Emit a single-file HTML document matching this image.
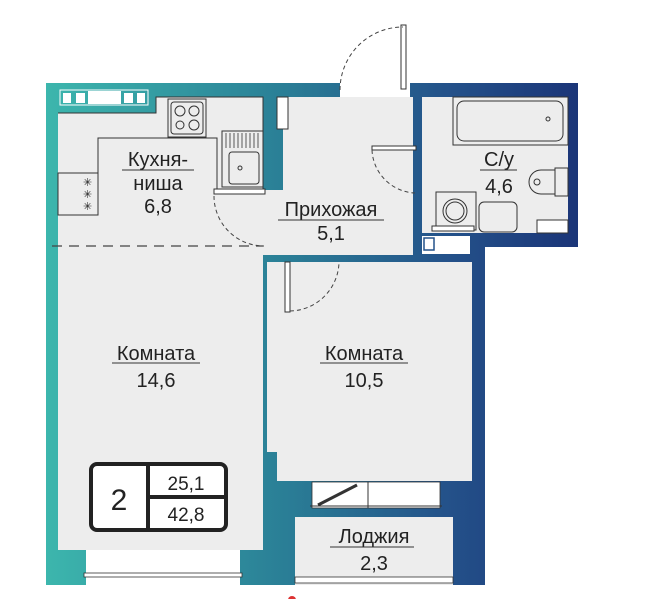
<!DOCTYPE html>
<html><head><meta charset="utf-8"><style>
html,body{margin:0;padding:0;background:#fff;width:645px;height:599px;overflow:hidden}
svg{display:block}
text{font-family:"Liberation Sans","DejaVu Sans",sans-serif;fill:#222}
</style></head><body>
<svg width="645" height="599" viewBox="0 0 645 599" xmlns="http://www.w3.org/2000/svg">
<defs>
<linearGradient id="g" x1="46" y1="0" x2="578" y2="0" gradientUnits="userSpaceOnUse">
<stop offset="0" stop-color="#3cb6ad"/><stop offset="0.45" stop-color="#2a7e96"/><stop offset="0.75" stop-color="#24528a"/><stop offset="1" stop-color="#1b3578"/>
</linearGradient>
</defs>
<path d="M46,83 H343 V97 H408 V83 H578 V247 H485 V585 H46 Z" fill="url(#g)"/>
<rect x="340" y="80" width="70" height="18" fill="#fff"/>
<!-- left room + kitchen -->
<path d="M58,113 H156 V97 H263 V550 H58 Z" fill="#ededed"/>
<path d="M283,97 H413 V255 H263 V190 H283 Z" fill="#ededed"/>
<rect x="422" y="97" width="146" height="136" fill="#ededed"/>
<rect x="422" y="236" width="48" height="18" fill="#fff"/>
<rect x="424" y="238" width="10" height="12" fill="#fff" stroke="#24528a" stroke-width="1.5"/>
<path d="M267,262 H472 V481 H277 V452 H267 Z" fill="#ededed"/>
<!-- top-left window in wall -->
<rect x="60" y="90" width="88" height="15" fill="none" stroke="#fff" stroke-width="1"/>
<rect x="63" y="93" width="8" height="10" fill="#fff"/><rect x="76" y="93" width="9" height="10" fill="#fff"/>
<rect x="88" y="91" width="33" height="13" fill="#fff"/>
<rect x="124" y="93" width="9" height="10" fill="#fff"/><rect x="137" y="93" width="8" height="10" fill="#fff"/>
<!-- kitchen cabinets -->
<path d="M58,113 H156 V97 H263 V190 H217 V138 H98 V175 H58" fill="#ededed" stroke="#333" stroke-width="1"/>
<rect x="168" y="99" width="38" height="38" fill="#ededed" stroke="#333"/>
<rect x="171" y="102" width="32" height="32" rx="3" fill="none" stroke="#333"/>
<circle cx="180" cy="111" r="5" fill="none" stroke="#333"/><circle cx="194" cy="111" r="5" fill="none" stroke="#333"/>
<circle cx="180" cy="125" r="4" fill="none" stroke="#333"/><circle cx="194" cy="125" r="5" fill="none" stroke="#333"/>
<rect x="222" y="131" width="41" height="56" fill="#ededed" stroke="#333"/>
<g stroke="#333" stroke-width="0.8"><line x1="226" y1="133" x2="226" y2="148"/><line x1="230" y1="133" x2="230" y2="148"/><line x1="234" y1="133" x2="234" y2="148"/><line x1="238" y1="133" x2="238" y2="148"/><line x1="242" y1="133" x2="242" y2="148"/><line x1="246" y1="133" x2="246" y2="148"/><line x1="250" y1="133" x2="250" y2="148"/><line x1="254" y1="133" x2="254" y2="148"/><line x1="258" y1="133" x2="258" y2="148"/></g>
<rect x="229" y="152" width="30" height="32" rx="3" fill="none" stroke="#333"/>
<circle cx="240" cy="168" r="2" fill="none" stroke="#333"/>
<rect x="214" y="189" width="51" height="5" fill="#fff" stroke="#333"/>
<rect x="58" y="173" width="40" height="42" fill="#ededed" stroke="#333"/>
<text x="83" y="186" font-size="11">✳</text><text x="83" y="198" font-size="11">✳</text><text x="83" y="210" font-size="11">✳</text>
<rect x="277" y="97" width="11" height="32" fill="#fff" stroke="#333"/>
<line x1="52" y1="246" x2="263" y2="246" stroke="#444" stroke-width="1.3" stroke-dasharray="10,7"/>
<path d="M214,196 A50,50 0 0 0 264,246" fill="none" stroke="#444" stroke-dasharray="4,3"/>
<rect x="401" y="25" width="5" height="64" fill="#fff" stroke="#333"/>
<path d="M340,90 A63,63 0 0 1 403,27" fill="none" stroke="#444" stroke-dasharray="4,3"/>
<rect x="372" y="146" width="44" height="4" fill="#fff" stroke="#333"/>
<path d="M372,150 A45,45 0 0 0 415,193" fill="none" stroke="#444" stroke-dasharray="4,3"/>
<rect x="285" y="262" width="5" height="50" fill="#fff" stroke="#333"/>
<path d="M290,311 A50,50 0 0 0 339,262" fill="none" stroke="#444" stroke-dasharray="4,3"/>
<rect x="453" y="97" width="115" height="48" fill="#ededed" stroke="#333"/>
<rect x="457" y="101" width="106" height="40" rx="7" fill="none" stroke="#333"/>
<circle cx="548" cy="119" r="2" fill="none" stroke="#333"/>
<rect x="555" y="168" width="13" height="28" fill="#ededed" stroke="#333"/>
<path d="M555,170 H541 A12,12 0 0 0 541,194 H555 Z" fill="#ededed" stroke="#333"/>
<circle cx="537" cy="182" r="3" fill="none" stroke="#333"/>
<rect x="537" y="220" width="31" height="13" fill="#fff" stroke="#333"/>
<rect x="436" y="192" width="40" height="38" fill="#ededed" stroke="#333"/>
<circle cx="455" cy="211" r="12" fill="none" stroke="#333"/><circle cx="455" cy="211" r="9" fill="none" stroke="#333"/>
<rect x="432" y="226" width="42" height="5" fill="#fff" stroke="#333"/>
<rect x="479" y="202" width="38" height="30" rx="5" fill="#ededed" stroke="#333"/>
<rect x="86" y="550" width="154" height="35" fill="#fff"/>
<rect x="84" y="573" width="158" height="4" fill="#fff" stroke="#333" stroke-width="0.8"/>
<rect x="312" y="482" width="128" height="26" fill="#fff" stroke="#333" stroke-width="0.8"/>
<line x1="368" y1="482" x2="368" y2="508" stroke="#333"/>
<line x1="318" y1="505" x2="357" y2="485" stroke="#333" stroke-width="3"/>
<line x1="310" y1="506" x2="442" y2="506" stroke="#333"/>
<rect x="295" y="517" width="158" height="68" fill="#ededed"/>
<rect x="295" y="577" width="158" height="6" fill="#fff" stroke="#333" stroke-width="0.8"/>
<rect x="91" y="464" width="135" height="66" rx="6" fill="#fff" stroke="#222" stroke-width="4"/>
<line x1="148" y1="464" x2="148" y2="530" stroke="#222" stroke-width="4"/>
<line x1="148" y1="497" x2="226" y2="497" stroke="#222" stroke-width="4"/>
<text x="119" y="510" font-size="30" text-anchor="middle">2</text>
<text x="186" y="490" font-size="19" text-anchor="middle">25,1</text>
<text x="186" y="521" font-size="19" text-anchor="middle">42,8</text>
<g font-size="20" text-anchor="middle">
<text x="158" y="166">Кухня-</text><line x1="122" y1="170" x2="194" y2="170" stroke="#333"/>
<text x="158" y="190">ниша</text>
<text x="158" y="213">6,8</text>
<text x="331" y="216">Прихожая</text><line x1="278" y1="220" x2="384" y2="220" stroke="#333"/>
<text x="331" y="240">5,1</text>
<text x="499" y="166">С/у</text><line x1="480" y1="170" x2="517" y2="170" stroke="#333"/>
<text x="499" y="193">4,6</text>
<text x="156" y="360">Комната</text><line x1="112" y1="363" x2="200" y2="363" stroke="#333"/>
<text x="156" y="387">14,6</text>
<text x="364" y="360">Комната</text><line x1="320" y1="363" x2="408" y2="363" stroke="#333"/>
<text x="364" y="387">10,5</text>
<text x="374" y="543">Лоджия</text><line x1="330" y1="547" x2="414" y2="547" stroke="#333"/>
<text x="374" y="570">2,3</text>
</g>
<circle cx="292" cy="600" r="4" fill="#d33"/>
</svg>
</body></html>
